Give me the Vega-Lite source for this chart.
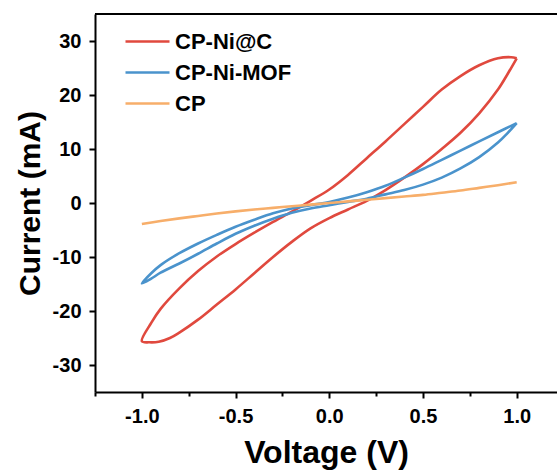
{
  "$schema": "https://vega.github.io/schema/vega-lite/v6.json",
  "autosize": {"type": "none"},
  "width": 462,
  "height": 378,
  "padding": {"left": 95, "top": 14, "right": 0, "bottom": 83},
  "background": "white",
  "config": {
    "view": {"stroke": null},
    "font": "Liberation Sans",
    "axis": {
      "domainColor": "black",
      "domainWidth": 2,
      "tickColor": "black",
      "tickWidth": 2,
      "grid": false,
      "labelFont": "Liberation Sans",
      "labelFontWeight": "bold",
      "labelFontSize": 20,
      "labelColor": "black",
      "labelOverlap": false,
      "labelFlush": false,
      "titleFont": "Liberation Sans",
      "titleFontWeight": "bold",
      "titleColor": "black"
    }
  },
  "data": {
    "values": [
      {"s": "CP-Ni@C", "i": 0, "v": 1.0, "c": 26.8},
      {"s": "CP-Ni@C", "i": 1, "v": 0.97, "c": 27.0},
      {"s": "CP-Ni@C", "i": 2, "v": 0.9, "c": 26.8},
      {"s": "CP-Ni@C", "i": 3, "v": 0.8, "c": 25.5},
      {"s": "CP-Ni@C", "i": 4, "v": 0.7, "c": 23.5},
      {"s": "CP-Ni@C", "i": 5, "v": 0.6, "c": 21.0},
      {"s": "CP-Ni@C", "i": 6, "v": 0.5, "c": 17.8},
      {"s": "CP-Ni@C", "i": 7, "v": 0.4, "c": 14.6},
      {"s": "CP-Ni@C", "i": 8, "v": 0.3, "c": 11.4},
      {"s": "CP-Ni@C", "i": 9, "v": 0.2, "c": 8.3},
      {"s": "CP-Ni@C", "i": 10, "v": 0.1, "c": 5.2},
      {"s": "CP-Ni@C", "i": 11, "v": 0.0, "c": 2.5},
      {"s": "CP-Ni@C", "i": 12, "v": -0.1, "c": 0.4},
      {"s": "CP-Ni@C", "i": 13, "v": -0.2, "c": -1.6},
      {"s": "CP-Ni@C", "i": 14, "v": -0.3, "c": -3.5},
      {"s": "CP-Ni@C", "i": 15, "v": -0.4, "c": -5.5},
      {"s": "CP-Ni@C", "i": 16, "v": -0.5, "c": -7.6},
      {"s": "CP-Ni@C", "i": 17, "v": -0.6, "c": -9.9},
      {"s": "CP-Ni@C", "i": 18, "v": -0.7, "c": -12.6},
      {"s": "CP-Ni@C", "i": 19, "v": -0.8, "c": -15.8},
      {"s": "CP-Ni@C", "i": 20, "v": -0.9, "c": -19.6},
      {"s": "CP-Ni@C", "i": 21, "v": -0.95, "c": -22.2},
      {"s": "CP-Ni@C", "i": 22, "v": -1.0, "c": -25.6},
      {"s": "CP-Ni@C", "i": 23, "v": -0.96, "c": -25.8},
      {"s": "CP-Ni@C", "i": 24, "v": -0.91, "c": -25.7},
      {"s": "CP-Ni@C", "i": 25, "v": -0.85, "c": -25.0},
      {"s": "CP-Ni@C", "i": 26, "v": -0.8, "c": -24.0},
      {"s": "CP-Ni@C", "i": 27, "v": -0.7, "c": -21.6},
      {"s": "CP-Ni@C", "i": 28, "v": -0.6, "c": -18.8},
      {"s": "CP-Ni@C", "i": 29, "v": -0.5, "c": -16.0},
      {"s": "CP-Ni@C", "i": 30, "v": -0.4, "c": -13.0},
      {"s": "CP-Ni@C", "i": 31, "v": -0.3, "c": -10.0},
      {"s": "CP-Ni@C", "i": 32, "v": -0.2, "c": -7.2},
      {"s": "CP-Ni@C", "i": 33, "v": -0.1, "c": -4.7},
      {"s": "CP-Ni@C", "i": 34, "v": 0.0, "c": -2.8},
      {"s": "CP-Ni@C", "i": 35, "v": 0.1, "c": -1.2},
      {"s": "CP-Ni@C", "i": 36, "v": 0.2, "c": 0.4},
      {"s": "CP-Ni@C", "i": 37, "v": 0.3, "c": 2.4},
      {"s": "CP-Ni@C", "i": 38, "v": 0.4, "c": 4.7},
      {"s": "CP-Ni@C", "i": 39, "v": 0.5, "c": 7.2},
      {"s": "CP-Ni@C", "i": 40, "v": 0.6, "c": 10.0},
      {"s": "CP-Ni@C", "i": 41, "v": 0.7, "c": 13.0},
      {"s": "CP-Ni@C", "i": 42, "v": 0.8, "c": 16.6},
      {"s": "CP-Ni@C", "i": 43, "v": 0.9, "c": 21.0},
      {"s": "CP-Ni@C", "i": 44, "v": 0.95, "c": 23.8},
      {"s": "CP-Ni@C", "i": 45, "v": 1.0, "c": 26.8},
      {"s": "CP-Ni-MOF", "i": 0, "v": 1.0, "c": 14.8},
      {"s": "CP-Ni-MOF", "i": 1, "v": 0.9, "c": 13.1},
      {"s": "CP-Ni-MOF", "i": 2, "v": 0.8, "c": 11.4},
      {"s": "CP-Ni-MOF", "i": 3, "v": 0.7, "c": 9.7},
      {"s": "CP-Ni-MOF", "i": 4, "v": 0.6, "c": 8.0},
      {"s": "CP-Ni-MOF", "i": 5, "v": 0.5, "c": 6.3},
      {"s": "CP-Ni-MOF", "i": 6, "v": 0.4, "c": 4.7},
      {"s": "CP-Ni-MOF", "i": 7, "v": 0.3, "c": 3.2},
      {"s": "CP-Ni-MOF", "i": 8, "v": 0.2, "c": 2.0},
      {"s": "CP-Ni-MOF", "i": 9, "v": 0.1, "c": 1.0},
      {"s": "CP-Ni-MOF", "i": 10, "v": 0.0, "c": 0.2},
      {"s": "CP-Ni-MOF", "i": 11, "v": -0.1, "c": -0.4},
      {"s": "CP-Ni-MOF", "i": 12, "v": -0.2, "c": -1.0},
      {"s": "CP-Ni-MOF", "i": 13, "v": -0.3, "c": -1.9},
      {"s": "CP-Ni-MOF", "i": 14, "v": -0.4, "c": -3.1},
      {"s": "CP-Ni-MOF", "i": 15, "v": -0.5, "c": -4.4},
      {"s": "CP-Ni-MOF", "i": 16, "v": -0.6, "c": -5.9},
      {"s": "CP-Ni-MOF", "i": 17, "v": -0.7, "c": -7.5},
      {"s": "CP-Ni-MOF", "i": 18, "v": -0.8, "c": -9.3},
      {"s": "CP-Ni-MOF", "i": 19, "v": -0.9, "c": -11.5},
      {"s": "CP-Ni-MOF", "i": 20, "v": -0.95, "c": -13.0},
      {"s": "CP-Ni-MOF", "i": 21, "v": -1.0, "c": -14.9},
      {"s": "CP-Ni-MOF", "i": 22, "v": -0.95, "c": -14.0},
      {"s": "CP-Ni-MOF", "i": 23, "v": -0.9, "c": -12.9},
      {"s": "CP-Ni-MOF", "i": 24, "v": -0.8, "c": -11.2},
      {"s": "CP-Ni-MOF", "i": 25, "v": -0.7, "c": -9.4},
      {"s": "CP-Ni-MOF", "i": 26, "v": -0.6, "c": -7.5},
      {"s": "CP-Ni-MOF", "i": 27, "v": -0.5, "c": -5.7},
      {"s": "CP-Ni-MOF", "i": 28, "v": -0.4, "c": -4.2},
      {"s": "CP-Ni-MOF", "i": 29, "v": -0.3, "c": -2.9},
      {"s": "CP-Ni-MOF", "i": 30, "v": -0.2, "c": -1.8},
      {"s": "CP-Ni-MOF", "i": 31, "v": -0.1, "c": -1.0},
      {"s": "CP-Ni-MOF", "i": 32, "v": 0.0, "c": -0.4},
      {"s": "CP-Ni-MOF", "i": 33, "v": 0.1, "c": 0.2},
      {"s": "CP-Ni-MOF", "i": 34, "v": 0.2, "c": 0.8},
      {"s": "CP-Ni-MOF", "i": 35, "v": 0.3, "c": 1.6},
      {"s": "CP-Ni-MOF", "i": 36, "v": 0.4, "c": 2.4},
      {"s": "CP-Ni-MOF", "i": 37, "v": 0.5, "c": 3.4},
      {"s": "CP-Ni-MOF", "i": 38, "v": 0.6, "c": 4.7},
      {"s": "CP-Ni-MOF", "i": 39, "v": 0.7, "c": 6.4},
      {"s": "CP-Ni-MOF", "i": 40, "v": 0.8, "c": 8.5},
      {"s": "CP-Ni-MOF", "i": 41, "v": 0.9, "c": 11.2},
      {"s": "CP-Ni-MOF", "i": 42, "v": 0.95, "c": 12.9},
      {"s": "CP-Ni-MOF", "i": 43, "v": 1.0, "c": 14.8},
      {"s": "CP", "i": 0, "v": -1.0, "c": -3.9},
      {"s": "CP", "i": 1, "v": -0.9, "c": -3.35},
      {"s": "CP", "i": 2, "v": -0.8, "c": -2.85},
      {"s": "CP", "i": 3, "v": -0.7, "c": -2.4},
      {"s": "CP", "i": 4, "v": -0.6, "c": -1.95},
      {"s": "CP", "i": 5, "v": -0.5, "c": -1.55},
      {"s": "CP", "i": 6, "v": -0.4, "c": -1.2},
      {"s": "CP", "i": 7, "v": -0.3, "c": -0.9},
      {"s": "CP", "i": 8, "v": -0.2, "c": -0.6},
      {"s": "CP", "i": 9, "v": -0.1, "c": -0.3},
      {"s": "CP", "i": 10, "v": 0.0, "c": 0.0},
      {"s": "CP", "i": 11, "v": 0.1, "c": 0.3},
      {"s": "CP", "i": 12, "v": 0.2, "c": 0.6},
      {"s": "CP", "i": 13, "v": 0.3, "c": 0.9},
      {"s": "CP", "i": 14, "v": 0.4, "c": 1.2},
      {"s": "CP", "i": 15, "v": 0.5, "c": 1.5},
      {"s": "CP", "i": 16, "v": 0.6, "c": 1.9},
      {"s": "CP", "i": 17, "v": 0.7, "c": 2.3},
      {"s": "CP", "i": 18, "v": 0.8, "c": 2.8},
      {"s": "CP", "i": 19, "v": 0.9, "c": 3.3},
      {"s": "CP", "i": 20, "v": 1.0, "c": 3.85}
    ]
  },
  "layer": [
    {
      "mark": {"type": "line", "strokeWidth": 2.6, "strokeJoin": "round", "interpolate": "catmull-rom"},
      "encoding": {
        "x": {
          "field": "v", "type": "quantitative",
          "scale": {"domain": [-1.25, 1.215], "nice": false, "zero": false},
          "axis": {
            "title": "Voltage (V)",
            "titleFontSize": 32,
            "values": [-1.25, -1.0, -0.75, -0.5, -0.25, 0, 0.25, 0.5, 0.75, 1.0],
            "labelExpr": "abs(datum.value * 2 - round(datum.value * 2)) < 0.001 ? replace(format(datum.value, '.1f'), '\u2212', '-') : ''",
            "tickSize": {"condition": {"test": "abs(datum.value * 2 - round(datum.value * 2)) < 0.001", "value": 6}, "value": 4},
            "labelPadding": 8,
            "titlePadding": 11
          }
        },
        "y": {
          "field": "c", "type": "quantitative",
          "scale": {"domain": [-35, 35], "nice": false},
          "axis": {
            "title": "Current (mA)",
            "titleFontSize": 30,
            "values": [-30, -25, -20, -15, -10, -5, 0, 5, 10, 15, 20, 25, 30],
            "labelExpr": "datum.value % 10 === 0 ? replace(format(datum.value, 'd'), '\u2212', '-') : ''",
            "tickSize": {"condition": {"test": "datum.value % 10 === 0", "value": 6}, "value": 4},
            "labelPadding": 8,
            "titlePadding": 7
          }
        },
        "order": {"field": "i", "type": "quantitative"},
        "color": {
          "field": "s", "type": "nominal",
          "scale": {"domain": ["CP-Ni@C", "CP-Ni-MOF", "CP"], "range": ["#E0493E", "#4A93CC", "#F7AE6A"]},
          "legend": {
            "title": null,
            "orient": "none",
            "legendX": 40,
            "legendY": 15,
            "symbolType": "M-2,0H2",
            "symbolSize": 484,
            "symbolStrokeWidth": 2.6,
            "labelFont": "Liberation Sans",
            "labelFontWeight": "bold",
            "labelFontSize": 22,
            "labelColor": "black",
            "labelOffset": 15,
            "rowPadding": 7
          }
        }
      }
    },
    {
      "mark": {"type": "rule", "color": "black", "strokeWidth": 2},
      "encoding": {"y": {"datum": 35}}
    }
  ]
}
